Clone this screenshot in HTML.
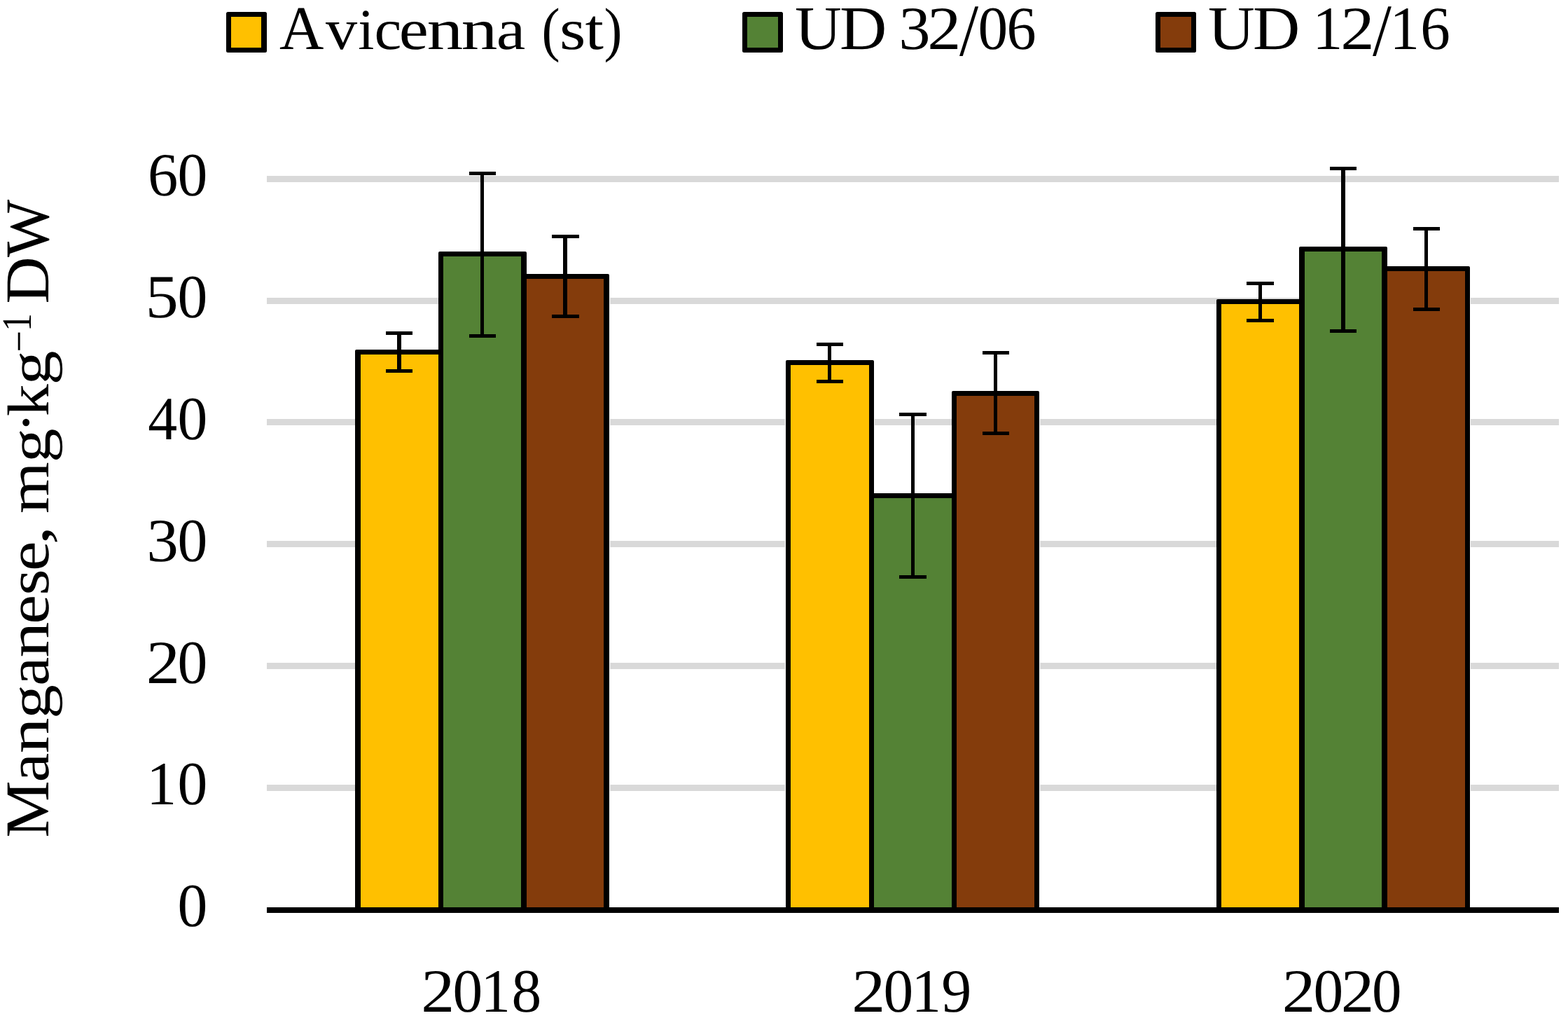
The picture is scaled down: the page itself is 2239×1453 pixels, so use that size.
<!DOCTYPE html>
<html lang="en"><head><meta charset="utf-8">
<title>Manganese content, mg·kg−1 DW</title>
<style>
html,body{margin:0;padding:0;background:#fff;}
body{width:2239px;height:1453px;overflow:hidden;}
svg{display:block;}
text{font-family:"Liberation Serif",serif;fill:#000;text-rendering:geometricPrecision;}
</style></head><body>
<svg width="2239" height="1453" viewBox="0 0 2239 1453">
<rect x="0" y="0" width="2239" height="1453" fill="#fff"/>
<g id="gridlines" fill="#d9d9d9">
<rect x="381" y="251" width="1845" height="9"/>
<rect x="381" y="425" width="1845" height="9"/>
<rect x="381" y="598" width="1845" height="9"/>
<rect x="381" y="772" width="1845" height="9"/>
<rect x="381" y="946" width="1845" height="9"/>
<rect x="381" y="1120" width="1845" height="9"/>
</g>
<g id="bars">
<rect x="633" y="499" width="1" height="796" fill="#fff"/>
<rect x="752" y="359" width="1" height="936" fill="#fff"/>
<rect x="870" y="391" width="1" height="904" fill="#fff"/>
<rect x="1248" y="514" width="1" height="781" fill="#fff"/>
<rect x="1366" y="704" width="1" height="591" fill="#fff"/>
<rect x="1484" y="558" width="1" height="737" fill="#fff"/>
<rect x="1863" y="427" width="1" height="868" fill="#fff"/>
<rect x="1981" y="352" width="1" height="943" fill="#fff"/>
<rect x="2099" y="380" width="1" height="915" fill="#fff"/>
<rect x="1121" y="514" width="1" height="781" fill="#fff"/>
<rect x="507" y="499" width="126" height="801" rx="2" fill="#000"/>
<rect x="626" y="359" width="126" height="941" rx="2" fill="#000"/>
<rect x="744" y="391" width="126" height="909" rx="2" fill="#000"/>
<rect x="515" y="506" width="111" height="790" fill="#ffc000"/>
<rect x="633" y="366" width="111" height="930" fill="#548235"/>
<rect x="752" y="398" width="110" height="898" fill="#843c0c"/>
<rect x="1122" y="514" width="126" height="786" rx="2" fill="#000"/>
<rect x="1241" y="704" width="125" height="596" rx="2" fill="#000"/>
<rect x="1359" y="558" width="125" height="742" rx="2" fill="#000"/>
<rect x="1129" y="521" width="112" height="775" fill="#ffc000"/>
<rect x="1248" y="711" width="111" height="585" fill="#548235"/>
<rect x="1366" y="565" width="111" height="731" fill="#843c0c"/>
<rect x="1737" y="427" width="126" height="873" rx="2" fill="#000"/>
<rect x="1855" y="352" width="126" height="948" rx="2" fill="#000"/>
<rect x="1973" y="380" width="126" height="920" rx="2" fill="#000"/>
<rect x="1744" y="434" width="111" height="862" fill="#ffc000"/>
<rect x="1863" y="359" width="110" height="937" fill="#548235"/>
<rect x="1981" y="387" width="111" height="909" fill="#843c0c"/>
</g>
<g id="axis" fill="#000">
<rect x="381" y="1295" width="1845" height="8"/>
</g>
<g id="errorbars" fill="#000">
<rect x="551" y="473" width="38" height="5"/><rect x="551" y="527" width="38" height="5"/><rect x="567" y="473" width="6" height="59"/>
<rect x="670" y="245" width="38" height="5"/><rect x="670" y="477" width="38" height="5"/><rect x="686" y="245" width="5" height="237"/>
<rect x="788" y="335" width="39" height="5"/><rect x="788" y="449" width="39" height="5"/><rect x="804" y="335" width="6" height="119"/>
<rect x="1166" y="489" width="38" height="5"/><rect x="1166" y="542" width="38" height="5"/><rect x="1182" y="489" width="5" height="58"/>
<rect x="1284" y="589" width="39" height="5"/><rect x="1284" y="821" width="39" height="5"/><rect x="1301" y="589" width="5" height="237"/>
<rect x="1403" y="501" width="38" height="5"/><rect x="1403" y="616" width="38" height="5"/><rect x="1419" y="501" width="5" height="120"/>
<rect x="1780" y="402" width="39" height="5"/><rect x="1780" y="455" width="39" height="5"/><rect x="1797" y="402" width="5" height="58"/>
<rect x="1899" y="238" width="38" height="5"/><rect x="1899" y="470" width="38" height="5"/><rect x="1915" y="238" width="6" height="237"/>
<rect x="2018" y="324" width="38" height="5"/><rect x="2018" y="439" width="38" height="5"/><rect x="2034" y="324" width="5" height="120"/>
</g>
<g id="legend">
<rect x="323" y="17" width="58" height="58" rx="2.5" fill="#000"/><rect x="330" y="24" width="43" height="44" fill="#ffc000"/>
<rect x="1060" y="17" width="58" height="58" rx="2.5" fill="#000"/><rect x="1067" y="24" width="44" height="44" fill="#548235"/>
<rect x="1650" y="17" width="58" height="58" rx="2.5" fill="#000"/><rect x="1657" y="24" width="44" height="44" fill="#843c0c"/>
</g>
<g id="labels">
<text><tspan lengthAdjust="spacingAndGlyphs" x="399.12" y="70" font-size="88.55" textLength="63.41">A</tspan><tspan lengthAdjust="spacingAndGlyphs" x="465" y="70" font-size="82.61" textLength="45.1">v</tspan><tspan lengthAdjust="spacingAndGlyphs" x="511.23" y="70" font-size="82.61" textLength="23.15">i</tspan><tspan lengthAdjust="spacingAndGlyphs" x="534.62" y="70" font-size="82.61" textLength="38.82">c</tspan><tspan lengthAdjust="spacingAndGlyphs" x="569.82" y="70" font-size="82.61" textLength="41.99">e</tspan><tspan lengthAdjust="spacingAndGlyphs" x="609.78" y="70" font-size="82.61" textLength="51.46">n</tspan><tspan lengthAdjust="spacingAndGlyphs" x="658.77" y="70" font-size="82.61" textLength="51.68">n</tspan><tspan lengthAdjust="spacingAndGlyphs" x="708.83" y="70" font-size="82.61" textLength="41.46">a</tspan> <tspan lengthAdjust="spacingAndGlyphs" x="773.57" y="70.59" font-size="86.19" textLength="26.12">(</tspan><tspan lengthAdjust="spacingAndGlyphs" x="799.06" y="70" font-size="82.61" textLength="37.36">s</tspan><tspan lengthAdjust="spacingAndGlyphs" x="835.45" y="70" font-size="82.61" textLength="26.46">t</tspan><tspan lengthAdjust="spacingAndGlyphs" x="862.48" y="70.59" font-size="86.19" textLength="25.86">)</tspan></text>
<text><tspan lengthAdjust="spacingAndGlyphs" x="1135.05" y="70" font-size="88.55" textLength="66.69">U</tspan><tspan lengthAdjust="spacingAndGlyphs" x="1199.11" y="70" font-size="88.55" textLength="67.18">D</tspan> <tspan lengthAdjust="spacingAndGlyphs" x="1283.63" y="70" font-size="87.8" textLength="44.97">3</tspan><tspan lengthAdjust="spacingAndGlyphs" x="1324.27" y="70" font-size="87.8" textLength="48.12">2</tspan><tspan lengthAdjust="spacingAndGlyphs" x="1370" y="78.64" font-size="105.67" textLength="27.13">/</tspan><tspan lengthAdjust="spacingAndGlyphs" x="1396.5" y="70" font-size="87.8" textLength="42.71">0</tspan><tspan lengthAdjust="spacingAndGlyphs" x="1437.52" y="70" font-size="87.8" textLength="42.11">6</tspan></text>
<text><tspan lengthAdjust="spacingAndGlyphs" x="1725.05" y="70" font-size="88.55" textLength="66.69">U</tspan><tspan lengthAdjust="spacingAndGlyphs" x="1789.11" y="70" font-size="88.55" textLength="67.18">D</tspan> <tspan lengthAdjust="spacingAndGlyphs" x="1874.15" y="70" font-size="87.8" textLength="43.12">1</tspan><tspan lengthAdjust="spacingAndGlyphs" x="1914.25" y="70" font-size="87.8" textLength="48.38">2</tspan><tspan lengthAdjust="spacingAndGlyphs" x="1960.1" y="78.64" font-size="105.67" textLength="26.83">/</tspan><tspan lengthAdjust="spacingAndGlyphs" x="1984.45" y="70" font-size="87.8" textLength="42.55">1</tspan><tspan lengthAdjust="spacingAndGlyphs" x="2028.28" y="70" font-size="87.8" textLength="42.57">6</tspan></text>
<text><tspan lengthAdjust="spacingAndGlyphs" x="211.02" y="279" font-size="87.8" textLength="43.27">6</tspan><tspan lengthAdjust="spacingAndGlyphs" x="253.59" y="279" font-size="87.8" textLength="42.82">0</tspan></text>
<text><tspan lengthAdjust="spacingAndGlyphs" x="207.7" y="453" font-size="87.8" textLength="46.96">5</tspan><tspan lengthAdjust="spacingAndGlyphs" x="253.59" y="453" font-size="87.8" textLength="42.82">0</tspan></text>
<text><tspan lengthAdjust="spacingAndGlyphs" x="211.32" y="627" font-size="87.8" textLength="41.94">4</tspan><tspan lengthAdjust="spacingAndGlyphs" x="253.59" y="627" font-size="87.8" textLength="42.82">0</tspan></text>
<text><tspan lengthAdjust="spacingAndGlyphs" x="209.59" y="801" font-size="87.8" textLength="45.33">3</tspan><tspan lengthAdjust="spacingAndGlyphs" x="253.59" y="801" font-size="87.8" textLength="42.82">0</tspan></text>
<text><tspan lengthAdjust="spacingAndGlyphs" x="208.76" y="975" font-size="87.8" textLength="48.25">2</tspan><tspan lengthAdjust="spacingAndGlyphs" x="253.59" y="975" font-size="87.8" textLength="42.82">0</tspan></text>
<text><tspan lengthAdjust="spacingAndGlyphs" x="209.28" y="1148" font-size="87.8" textLength="42.98">1</tspan><tspan lengthAdjust="spacingAndGlyphs" x="253.59" y="1148" font-size="87.8" textLength="42.82">0</tspan></text>
<text><tspan lengthAdjust="spacingAndGlyphs" x="253.59" y="1322" font-size="87.8" textLength="42.82">0</tspan></text>
<text><tspan lengthAdjust="spacingAndGlyphs" x="601.38" y="1444" font-size="87.8" textLength="48">2</tspan><tspan lengthAdjust="spacingAndGlyphs" x="646.6" y="1444" font-size="87.8" textLength="42.71">0</tspan><tspan lengthAdjust="spacingAndGlyphs" x="686.55" y="1444" font-size="87.8" textLength="42.55">1</tspan><tspan lengthAdjust="spacingAndGlyphs" x="730.6" y="1444" font-size="87.8" textLength="42.71">8</tspan></text>
<text><tspan lengthAdjust="spacingAndGlyphs" x="1216.38" y="1444" font-size="87.8" textLength="48">2</tspan><tspan lengthAdjust="spacingAndGlyphs" x="1261.6" y="1444" font-size="87.8" textLength="42.71">0</tspan><tspan lengthAdjust="spacingAndGlyphs" x="1301.55" y="1444" font-size="87.8" textLength="42.55">1</tspan><tspan lengthAdjust="spacingAndGlyphs" x="1344.3" y="1444" font-size="87.8" textLength="43.04">9</tspan></text>
<text><tspan lengthAdjust="spacingAndGlyphs" x="1830.71" y="1444" font-size="87.8" textLength="47.62">2</tspan><tspan lengthAdjust="spacingAndGlyphs" x="1875.6" y="1444" font-size="87.8" textLength="42.71">0</tspan><tspan lengthAdjust="spacingAndGlyphs" x="1914.82" y="1444" font-size="87.8" textLength="47.5">2</tspan><tspan lengthAdjust="spacingAndGlyphs" x="1958.91" y="1444" font-size="87.8" textLength="42.47">0</tspan></text>
<text transform="matrix(0 -1 1 0 69.2 1453)"><tspan lengthAdjust="spacingAndGlyphs" x="257.25" y="0" font-size="89.01" textLength="81.42">M</tspan><tspan lengthAdjust="spacingAndGlyphs" x="336.5" y="0" font-size="84.13" textLength="41.8">a</tspan><tspan lengthAdjust="spacingAndGlyphs" x="377.71" y="0" font-size="84.13" textLength="50.81">n</tspan><tspan lengthAdjust="spacingAndGlyphs" x="427.05" y="1.5" font-size="84.13" textLength="48.8">g</tspan><tspan lengthAdjust="spacingAndGlyphs" x="474.17" y="0" font-size="84.13" textLength="40.9">a</tspan><tspan lengthAdjust="spacingAndGlyphs" x="514.51" y="0" font-size="84.13" textLength="50.81">n</tspan><tspan lengthAdjust="spacingAndGlyphs" x="562.23" y="0" font-size="84.13" textLength="41.87">e</tspan><tspan lengthAdjust="spacingAndGlyphs" x="603.16" y="0" font-size="84.13" textLength="37.36">s</tspan><tspan lengthAdjust="spacingAndGlyphs" x="637.95" y="0" font-size="84.13" textLength="42.71">e</tspan><tspan lengthAdjust="spacingAndGlyphs" x="675.62" y="0" font-size="84.13" textLength="27.17">,</tspan> <tspan lengthAdjust="spacingAndGlyphs" x="719.91" y="0" font-size="84.13" textLength="73.65">m</tspan><tspan lengthAdjust="spacingAndGlyphs" x="792.85" y="1.5" font-size="84.13" textLength="48.8">g</tspan><tspan lengthAdjust="spacingAndGlyphs" x="835" y="-4.7" font-size="84.13" textLength="30.04">·</tspan><tspan lengthAdjust="spacingAndGlyphs" x="858.76" y="0" font-size="84.13" textLength="46.04">k</tspan><tspan lengthAdjust="spacingAndGlyphs" x="903.63" y="1.5" font-size="84.13" textLength="49.03">g</tspan><tspan lengthAdjust="spacingAndGlyphs" x="950.59" y="-22.7" font-size="59.7" textLength="30.56">−</tspan><tspan lengthAdjust="spacingAndGlyphs" x="979.98" y="-25" font-size="59.7" textLength="25.82">1</tspan> <tspan lengthAdjust="spacingAndGlyphs" x="1019.3" y="0" font-size="89.01" textLength="67.4">D</tspan><tspan lengthAdjust="spacingAndGlyphs" x="1086" y="0" font-size="89.01" textLength="82.32">W</tspan></text>
</g>
</svg>
</body></html>
